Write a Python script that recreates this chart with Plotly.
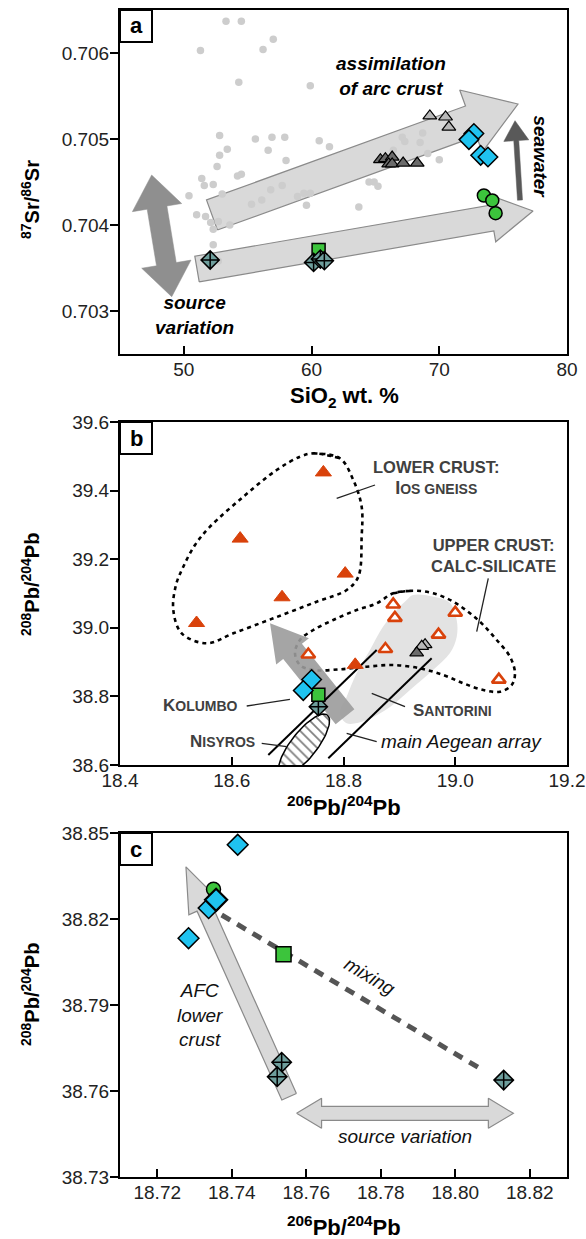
import numpy as np
import plotly.graph_objects as go

W, H = 586, 1239
FONT = "Arial, 'Liberation Sans', Helvetica, sans-serif"

# ------------------------------------------------------------------ data
# panel a : SiO2 wt.% vs 87Sr/86Sr
bg_sio2 = [53.3, 54.5, 51.3, 57.0, 56.2, 54.3, 59.9, 52.8, 55.6, 56.9, 57.9, 60.6, 53.4,
           56.6, 61.4, 52.8, 58.0, 52.6, 54.2, 54.5, 51.4, 51.6, 52.3, 50.4, 56.8, 57.7,
           59.4, 59.9, 64.5, 64.9, 65.2, 67.1, 68.7, 68.5, 66.4, 70.0, 69.1, 51.0, 51.7,
           52.1, 52.7, 53.6, 52.3, 52.3, 52.7, 55.3, 56.1, 58.9, 59.6, 63.7, 53.0, 67.3]
bg_sr = [0.70637, 0.70637, 0.70603, 0.70616, 0.70604, 0.70566, 0.70562, 0.70504, 0.70500,
         0.70502, 0.70502, 0.70498, 0.70488, 0.70487, 0.70491, 0.70481, 0.70475, 0.70468,
         0.70457, 0.70459, 0.70454, 0.70446, 0.70447, 0.70434, 0.70441, 0.70446, 0.70437,
         0.70437, 0.70450, 0.70450, 0.70445, 0.70502, 0.70507, 0.70496, 0.70487, 0.70476,
         0.70483, 0.70412, 0.70410, 0.70403, 0.70404, 0.70400, 0.70395, 0.70377, 0.70358,
         0.70424, 0.70429, 0.70433, 0.70423, 0.70421, 0.70436, 0.70497]
a_tri_light_sio2 = [69.26, 70.49, 70.75]
a_tri_light_sr = [0.705268, 0.705256, 0.705139]
a_tri_dark_sio2 = [65.39, 65.78, 66.31, 66.04, 66.31, 67.17, 68.27]
a_tri_dark_sr = [0.704760, 0.704771, 0.704790, 0.704710, 0.704710, 0.704720, 0.704720]
a_cyan_sio2 = [72.71, 72.32, 73.24, 73.81]
a_cyan_sr = [0.705063, 0.704993, 0.704810, 0.704790]
a_circ_sio2 = [73.49, 74.15, 74.41]
a_circ_sr = [0.704343, 0.704285, 0.704137]
a_sq_sio2 = [60.55]
a_sq_sr = [0.70371]
a_teal_sio2 = [52.06, 60.16, 60.69, 61.0]
a_teal_sr = [0.703593, 0.703565, 0.703604, 0.703585]

# panel b : 206Pb/204Pb vs 208Pb/204Pb
b_ios_x = [18.764, 18.615, 18.803, 18.690, 18.537, 18.821]
b_ios_y = [39.453, 39.260, 39.158, 39.089, 39.014, 38.892]
b_calc_x = [18.889, 18.892, 19.000, 18.970, 18.875, 18.737, 19.078]
b_calc_y = [39.068, 39.029, 39.044, 38.980, 38.938, 38.922, 38.849]
b_cyan_x = [18.743, 18.728]
b_cyan_y = [38.849, 38.817]
b_sq_x = [18.755]
b_sq_y = [38.805]
b_teal_x = [18.755]
b_teal_y = [38.770]
b_tri_light_x = [18.946, 18.940]
b_tri_light_y = [38.951, 38.946]
b_tri_dark_x = [18.931]
b_tri_dark_y = [38.927]

# panel c : 206Pb/204Pb vs 208Pb/204Pb (zoom)
c_cyan_x = [18.7416, 18.7284, 18.7338]
c_cyan_y = [38.8459, 38.8133, 38.8238]
c_circ_x = [18.7351]
c_circ_y = [38.8304]
c_cyan2_x = [18.7358]
c_cyan2_y = [38.8267]
c_sq_x = [18.7539]
c_sq_y = [38.8077]
c_teal_x = [18.7534, 18.7522, 18.8130]
c_teal_y = [38.7700, 38.7650, 38.7638]

a_xticks = [50, 60, 70, 80]
a_yticks = [0.703, 0.704, 0.705, 0.706]
b_xticks = [18.4, 18.6, 18.8, 19.0, 19.2]
b_yticks = [38.6, 38.8, 39.0, 39.2, 39.4, 39.6]
c_xticks = [18.72, 18.74, 18.76, 18.78, 18.80, 18.82]
c_yticks = [38.73, 38.76, 38.79, 38.82, 38.85]

# decorative fields (data units)
santorini_x = [18.9244, 18.9638, 18.9906, 19.0026, 19.0026, 18.9906, 18.9602, 18.9190, 18.8832,
               18.8415, 18.8057, 18.7937, 18.8057, 18.8236, 18.8474, 18.8707, 18.8952, 18.9131]
santorini_y = [39.0956, 39.0898, 39.0723, 39.0227, 38.9732, 38.9265, 38.8769, 38.8186, 38.7691,
               38.7312, 38.7216, 38.7516, 38.7991, 38.8682, 38.9353, 39.0032, 39.0519, 39.0810]
lower_x = [18.7459, 18.7937, 18.8175, 18.8325, 18.8325, 18.8265, 18.8057, 18.7520, 18.6744,
           18.6028, 18.5552, 18.5104, 18.4954, 18.5002, 18.5133, 18.5342, 18.5611, 18.6207,
           18.6804, 18.7221]
lower_y = [39.5087, 39.4942, 39.4309, 39.3531, 39.2656, 39.1490, 39.1102, 39.0761, 39.0277,
           38.9839, 38.9548, 38.9839, 39.0519, 39.1248, 39.1781, 39.2414, 39.2947, 39.3822,
           39.4601, 39.4988]
upper_x = [18.8891, 18.9249, 18.9607, 18.9965, 19.0264, 19.0502, 19.0742, 19.0980, 19.1069,
           19.1010, 19.0801, 19.0502, 19.0144, 18.9786, 18.9369, 18.8891, 18.8415, 18.7937,
           18.7459, 18.7221, 18.7132, 18.7221, 18.7459, 18.7817, 18.8236, 18.8594]
upper_y = [39.1006, 39.1082, 39.1006, 39.0761, 39.0423, 39.0081, 38.9644, 38.9157, 38.8673,
           38.8332, 38.8137, 38.8186, 38.8382, 38.8624, 38.8819, 38.8915, 38.8866, 38.8790,
           38.8769, 38.8915, 38.9256, 38.9644, 38.9936, 39.0227, 39.0519, 39.0714]

# ------------------------------------------------------------------ geometry
FX0, FX1 = 120, 567
PANELS = {
    'a': dict(y0=10, y1=354, xr=[45, 80], yr=[0.7025, 0.7065], xa='x', ya='y'),
    'b': dict(y0=422, y1=765, xr=[18.4, 19.2], yr=[38.6, 39.6], xa='x2', ya='y2'),
    'c': dict(y0=833, y1=1177, xr=[18.71, 18.83], yr=[38.73, 38.85], xa='x3', ya='y3'),
}


def to_px(pn, x, y):
    p = PANELS[pn]
    px = FX0 + (x - p['xr'][0]) / (p['xr'][1] - p['xr'][0]) * (FX1 - FX0)
    py = p['y1'] - (y - p['yr'][0]) / (p['yr'][1] - p['yr'][0]) * (p['y1'] - p['y0'])
    return px, py


def to_data(pn, px, py):
    p = PANELS[pn]
    x = p['xr'][0] + (px - FX0) / (FX1 - FX0) * (p['xr'][1] - p['xr'][0])
    y = p['yr'][0] + (p['y1'] - py) / (p['y1'] - p['y0']) * (p['yr'][1] - p['yr'][0])
    return x, y


def arrow(pn, start, end, shaft, head_w, head_l, double=False):
    S = np.array(to_px(pn, *start))
    E = np.array(to_px(pn, *end))
    d = E - S
    d = d / np.hypot(*d)
    n = np.array([-d[1], d[0]])
    b1 = E - d * head_l
    if double:
        b0 = S + d * head_l
        pts = [S, b0 + n * head_w / 2, b0 + n * shaft / 2, b1 + n * shaft / 2, b1 + n * head_w / 2, E,
               b1 - n * head_w / 2, b1 - n * shaft / 2, b0 - n * shaft / 2, b0 - n * head_w / 2, S]
    else:
        pts = [S + n * shaft / 2, b1 + n * shaft / 2, b1 + n * head_w / 2, E, b1 - n * head_w / 2,
               b1 - n * shaft / 2, S - n * shaft / 2, S + n * shaft / 2]
    xs, ys = zip(*[to_data(pn, *p) for p in pts])
    return list(xs), list(ys)


def ellipse(pn, center, a, b, ang_deg, n=80):
    cx, cy = to_px(pn, *center)
    th = np.radians(ang_deg)
    t = np.linspace(0, 2 * np.pi, n)
    px = cx + a * np.cos(t) * np.cos(th) + b * np.sin(t) * np.sin(th)
    py = cy - a * np.cos(t) * np.sin(th) + b * np.sin(t) * np.cos(th)
    xs, ys = zip(*[to_data(pn, x, y) for x, y in zip(px, py)])
    return list(xs), list(ys)


def paper(px, py):
    return px / W, 1 - py / H


fig = go.Figure()


def poly(pn, xs, ys, fill, line='rgba(0,0,0,0)', lw=0, **kw):
    p = PANELS[pn]
    fig.add_trace(go.Scatter(x=xs, y=ys, mode='lines', fill='toself', fillcolor=fill,
                             line=dict(color=line, width=lw), xaxis=p['xa'], yaxis=p['ya'],
                             hoverinfo='skip', showlegend=False, **kw))


def line(pn, xs, ys, color='black', width=1.5, dash='solid', shape='linear'):
    p = PANELS[pn]
    fig.add_trace(go.Scatter(x=xs, y=ys, mode='lines',
                             line=dict(color=color, width=width, dash=dash, shape=shape, smoothing=1.0),
                             xaxis=p['xa'], yaxis=p['ya'], hoverinfo='skip', showlegend=False))


def pts(pn, xs, ys, symbol, color, size, lc='black', lw=1.5):
    p = PANELS[pn]
    fig.add_trace(go.Scatter(x=xs, y=ys, mode='markers',
                             marker=dict(symbol=symbol, color=color, size=size,
                                         line=dict(color=lc, width=lw)),
                             xaxis=p['xa'], yaxis=p['ya'], showlegend=False, cliponaxis=False))


CYAN = '#1fc3f0'
GREEN = '#3cc43c'
TEAL = '#6e9e9c'
RED = '#d9420b'
LGREY = '#d9d9d9'
AOUT = '#8a8a8a'

# ------------------------------------------------------------------ panel a
ax, ay = arrow('a', (52.2, 0.704116), (76.16, 0.705407), 32, 66, 50)
poly('a', ax, ay, LGREY, AOUT, 1.2)
ax, ay = arrow('a', (51.03, 0.703488), (77.34, 0.704163), 26, 48, 42)
poly('a', ax, ay, LGREY, AOUT, 1.2)
ax, ay = arrow('a', (47.48, 0.704581), (49.05, 0.703166), 20, 50, 33, double=True)
poly('a', ax, ay, '#8f8f8f', '#8f8f8f', 0.5)
ax, ay = arrow('a', (76.32, 0.70429), (75.93, 0.705213), 5, 25, 20)
poly('a', ax, ay, '#595959', '#595959', 0.5)

pts('a', bg_sio2, bg_sr, 'circle', '#cdcdcd', 7.5, lw=0)
pts('a', a_tri_light_sio2, a_tri_light_sr, 'triangle-up', '#b8b8b8', 12, lw=1.2)
pts('a', a_tri_dark_sio2, a_tri_dark_sr, 'triangle-up', '#6b6b6b', 12, lw=1.2)
pts('a', a_sq_sio2, a_sq_sr, 'square', GREEN, 13)
pts('a', a_teal_sio2, a_teal_sr, 'diamond-cross', TEAL, 14)
pts('a', a_cyan_sio2, a_cyan_sr, 'diamond', CYAN, 15)
pts('a', a_circ_sio2, a_circ_sr, 'circle', GREEN, 13)

# ------------------------------------------------------------------ panel b
poly('b', santorini_x + santorini_x[:1], santorini_y + santorini_y[:1], '#e3e3e3', line_shape='spline')
line('b', lower_x + lower_x[:2], lower_y + lower_y[:2], 'black', 2.6, '4px,4px', 'spline')
line('b', upper_x + upper_x[:2], upper_y + upper_y[:2], 'black', 2.6, '4px,4px', 'spline')
ax, ay = arrow('b', (18.8027, 38.7408), (18.6685, 39.0131), 24, 42, 36)
poly('b', ax, ay, 'rgba(155,155,155,0.9)')
line('b', [18.6654, 18.8594], [38.6291, 38.9353], 'black', 2)
line('b', [18.7728, 18.9578], [38.6195, 38.9111], 'black', 2)
ex, ey = ellipse('b', (18.7293, 38.6583), 38, 13, 52)
poly('b', ex, ey, 'white', 'black', 1.5,
     fillpattern=dict(shape='\\', fgcolor='black', bgcolor='white', size=7, solidity=0.25))
# leader lines
for (x0, y0, x1, y1) in [(18.7878, 39.3776, 18.8564, 39.4163), (19.0591, 39.1443, 19.0384, 38.9886),
                         (18.6268, 38.7720, 18.7042, 38.7915), (18.6536, 38.6632, 18.6983, 38.6533),
                         (18.8505, 38.8090, 18.9101, 38.7699), (18.8057, 38.6924, 18.8594, 38.6679)]:
    line('b', [x0, x1], [y0, y1], '#222', 1.3)

pts('b', b_ios_x, b_ios_y, 'triangle-up', RED, 14, lc=RED, lw=1)
pts('b', b_calc_x, b_calc_y, 'triangle-up', 'white', 12, lc=RED, lw=2.6)
pts('b', b_tri_light_x, b_tri_light_y, 'triangle-up', '#b8b8b8', 12, lw=1.2)
pts('b', b_tri_dark_x, b_tri_dark_y, 'triangle-up', '#6b6b6b', 12, lw=1.2)
pts('b', b_teal_x, b_teal_y, 'diamond-cross', TEAL, 14)
pts('b', b_sq_x, b_sq_y, 'square', GREEN, 13)
pts('b', b_cyan_x, b_cyan_y, 'diamond', CYAN, 15)

# ------------------------------------------------------------------ panel c
ax, ay = arrow('c', (18.7554, 38.758), (18.7277, 38.8382), 16, 34, 45)
poly('c', ax, ay, LGREY, AOUT, 1.2)
ax, ay = arrow('c', (18.7574, 38.7522), (18.8156, 38.7522), 14, 30, 25, double=True)
poly('c', ax, ay, LGREY, AOUT, 1.2)
line('c', [18.7373, 18.8066], [38.8214, 38.7679], '#555555', 5, '10px,8px')

pts('c', c_cyan_x, c_cyan_y, 'diamond', CYAN, 16)
pts('c', c_circ_x, c_circ_y, 'circle', GREEN, 14)
pts('c', c_cyan2_x, c_cyan2_y, 'diamond', CYAN, 17, lw=2.2)
pts('c', c_sq_x, c_sq_y, 'square', GREEN, 15)
pts('c', c_teal_x, c_teal_y, 'diamond-cross', TEAL, 15)

# ------------------------------------------------------------------ axes
axis_common = dict(showline=True, mirror=True, linecolor='black', linewidth=2, showgrid=False,
                   zeroline=False, tickcolor='black', tickwidth=1.5, ticklen=8, automargin=False,
                   tickfont=dict(family=FONT, size=19, color='#222'))
shapes = []
annots = []
for key, xt, yt, xf, yf in [('a', a_xticks, a_yticks, 'd', '.3f'),
                            ('b', b_xticks, b_yticks, '.1f', '.1f'),
                            ('c', c_xticks, c_yticks, '.2f', '.2f')]:
    p = PANELS[key]
    sfx = '' if key == 'a' else ('2' if key == 'b' else '3')
    fig.layout['xaxis' + sfx] = dict(axis_common, domain=[FX0 / W, FX1 / W], range=p['xr'],
                                     anchor='y' + sfx, tickvals=xt, tickformat=xf, ticks='inside',
                                     ticklabelstandoff=-3)
    fig.layout['yaxis' + sfx] = dict(axis_common, domain=[1 - p['y1'] / H, 1 - p['y0'] / H],
                                     range=p['yr'], anchor='x' + sfx, tickvals=yt, tickformat=yf,
                                     ticks='outside', ticklabelstandoff=-3)
    # panel letter box
    x0, y0 = paper(FX0, p['y0'])
    x1, y1 = paper(FX0 + 32, p['y0'] + 32)
    shapes.append(dict(type='rect', xref='paper', yref='paper', x0=x0, y0=y1, x1=x1, y1=y0,
                       line=dict(color='black', width=2), fillcolor='white', layer='above'))
    cx, cy = paper(FX0 + 16, p['y0'] + 16)
    annots.append(dict(text='<b>%s</b>' % key, x=cx, y=cy, xref='paper', yref='paper',
                       showarrow=False, font=dict(family=FONT, size=22, color='black'),
                       xanchor='center', yanchor='middle'))


def ptext(text, px, py, size=20, angle=0, bold=True, color='black'):
    x, y = paper(px, py)
    annots.append(dict(text=('<b>%s</b>' % text) if bold else text, x=x, y=y, xref='paper',
                       yref='paper', showarrow=False, textangle=angle,
                       font=dict(family=FONT, size=size, color=color),
                       xanchor='center', yanchor='middle'))


def dtext(pn, text, x, y, size=19, angle=0, color='black', align='center'):
    p = PANELS[pn]
    annots.append(dict(text=text, x=x, y=y, xref=p['xa'], yref=p['ya'], showarrow=False,
                       textangle=angle, font=dict(family=FONT, size=size, color=color),
                       xanchor='center', yanchor='middle', align=align))


# axis titles
ptext('<sup>87</sup>Sr/<sup>86</sup>Sr', 30, 200, 20, -90)
ptext('SiO<sub>2</sub> wt. %', 344, 397, 22)
ptext('<sup>208</sup>Pb/<sup>204</sup>Pb', 30, 585, 20, -90)
ptext('<sup>206</sup>Pb/<sup>204</sup>Pb', 344, 806, 22)
ptext('<sup>208</sup>Pb/<sup>204</sup>Pb', 30, 995, 20, -90)
ptext('<sup>206</sup>Pb/<sup>204</sup>Pb', 344, 1226, 22)

# panel a labels
dtext('a', '<b><i>assimilation<br>of arc crust</i></b>', 66.2, 0.705733, 19)
dtext('a', '<b><i>seawater</i></b>', 77.89, 0.704797, 19, 90)
dtext('a', '<b><i>source<br>variation</i></b>', 50.87, 0.702953, 19)

# panel b labels
SC = '#404040'
SM = 'font-size:14px'
dtext('b', '<b>LOWER CRUST:<br><span style="font-size:18px">I</span><span style="%s">OS GNEISS</span></b>' % SM,
      18.9668, 39.438, 16.5, color=SC)
dtext('b', '<b>UPPER CRUST:<br>CALC-SILICATE</b>', 19.0681, 39.212, 16.5, color=SC)
dtext('b', '<b>K<span style="%s">OLUMBO</span></b>' % SM, 18.5432, 38.7749, 17, color=SC)
dtext('b', '<b>N<span style="%s">ISYROS</span></b>' % SM, 18.5834, 38.6679, 17, color=SC)
dtext('b', '<b>S<span style="%s">ANTORINI</span></b>' % SM, 18.9951, 38.7603, 17, color=SC)
dtext('b', '<i>main Aegean array</i>', 19.0115, 38.6679, 19, color='#111')

# panel c labels
dtext('c', '<i>mixing</i>', 18.7771, 38.7999, 19, 31, '#111')
dtext('c', '<i>AFC<br>lower<br>crust</i>', 18.7315, 38.7865, 19, 0, '#111')
dtext('c', '<i>source variation</i>', 18.7865, 38.7441, 19, 0, '#111')

fig.update_layout(width=W, height=H, margin=dict(l=0, r=0, t=0, b=0, autoexpand=False),
                  plot_bgcolor='white', paper_bgcolor='white', showlegend=False, shapes=shapes,
                  annotations=annots, font=dict(family=FONT, color='#222'))
fig.write_html('out.html', config={'displayModeBar': False},
               post_script="document.body.style.margin='0';")
